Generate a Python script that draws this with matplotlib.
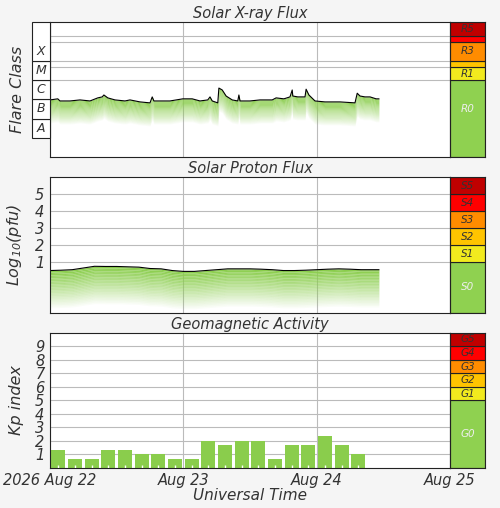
import matplotlib
matplotlib.use("Agg")
import matplotlib.pyplot as plt
import numpy as np
from matplotlib.patches import Rectangle

plt.rcParams['font.family'] = ['DejaVu Sans']
plt.rcParams['font.style'] = 'italic'

# X-ray flux (hours since 2026 Aug 22 00UT, W/m^2)
xray_hours = [0, 1.4, 1.8, 3.6, 5.4, 7.2, 8.6, 9.4, 9.7, 10.4, 11.7, 13.5, 14.4, 16.2, 18, 18.4, 18.7,
              19.8, 21.6, 23.9, 25.6, 27, 28.4, 28.8, 29.2, 30.2, 30.4, 31, 31.7, 32.8, 33.8, 34, 34.2,
              36, 37.8, 40, 40.7, 42.1, 43.2, 43.6, 43.7, 44.6, 45.9, 46.1, 46.6, 47.7, 49.5, 52.2,
              54.9, 55.3, 55.8, 56.7, 57.6, 58.7, 59.2]
xray_flux = [9.4e-7, 1.07e-6, 8.3e-7, 8.3e-7, 9.4e-7, 8.3e-7, 1.2e-6, 1.35e-6, 1.7e-6, 1.2e-6, 9.4e-7,
             8.3e-7, 9.4e-7, 7.4e-7, 6.6e-7, 1.35e-6, 8.3e-7, 8.3e-7, 8.3e-7, 1.07e-6, 1.07e-6, 8.3e-7,
             9.4e-7, 1.35e-6, 8.3e-7, 6.6e-7, 3.9e-6, 3.1e-6, 1.5e-6, 9.4e-7, 8.3e-7, 1.7e-6, 8.3e-7,
             8.3e-7, 9.4e-7, 9.4e-7, 1.2e-6, 1.07e-6, 1.35e-6, 3.1e-6, 1.5e-6, 1.35e-6, 1.35e-6, 3.4e-6,
             1.7e-6, 8.3e-7, 7.4e-7, 7.4e-7, 6.6e-7, 2.1e-6, 1.5e-6, 1.35e-6, 1.35e-6, 1.07e-6, 1.07e-6]

# Proton flux (log10 pfu)
proton_hours = [0, 2, 4, 6, 8, 10, 12, 14, 16, 18, 20, 22, 24, 26, 28, 30, 32, 34, 36, 38, 40,
                42, 44, 46, 48, 50, 52, 54, 56, 58, 59.2]
proton_log = [0.5, 0.52, 0.55, 0.65, 0.75, 0.74, 0.74, 0.72, 0.7, 0.62, 0.6, 0.5, 0.45, 0.45, 0.5,
              0.55, 0.6, 0.6, 0.6, 0.58, 0.55, 0.5, 0.5, 0.52, 0.55, 0.58, 0.6, 0.58, 0.55, 0.55, 0.55]

# Kp index, 3-hour bins
kp_values = [1.33, 0.67, 0.67, 1.33, 1.33, 1.0, 1.0, 0.67, 0.67, 2.0, 1.67, 2.0, 2.0, 0.67, 1.67,
             1.67, 2.33, 1.67, 1.0]

tick_hours = [0, 24, 48, 72]
tick_labels = ['2026 Aug 22', 'Aug 23', 'Aug 24', 'Aug 25']

r_levels = ['R0', 'R1', 'R2', 'R3', 'R4', 'R5']
r_bounds = [1e-9, 1e-5, 5e-5, 1e-4, 1e-3, 2e-3, 1.1e-2]
s_levels = ['S0', 'S1', 'S2', 'S3', 'S4', 'S5']
s_bounds = [-2, 1, 2, 3, 4, 5, 6]
g_levels = ['G0', 'G1', 'G2', 'G3', 'G4', 'G5']
g_bounds = [0, 5, 6, 7, 8, 9, 10]
flare_classes = ['A', 'B', 'C', 'M', 'X']
flare_bounds = [1e-8, 1e-7, 1e-6, 1e-5, 1e-4, 1.1e-2]

scale_colors = ['#8fd150', '#f2ea1e', '#ffc400', '#ff8c00', '#ff0000', '#c00000']
GREEN = '#8acd4c'
GRID = '#bbbbbb'
TXT = '#333333'

fig = plt.figure(figsize=(5, 5.08), dpi=100)
fig.patch.set_facecolor('#f5f5f5')

L, W = 0.1, 0.8
SL, SW = 0.9, 0.07
panels = [(0.691, 0.266), (0.384, 0.267), (0.079, 0.266)]


def style(ax):
    ax.set_xlim(0, 72)
    ax.set_xticks(tick_hours)
    ax.grid(axis='x', color=GRID, lw=0.8)
    ax.set_axisbelow(True)
    ax.tick_params(length=0, colors=TXT)
    for s in ax.spines.values():
        s.set_color('#222222')


def gradient(ax, x, top, bottom_fn, n=25):
    x = np.asarray(x)
    for k in range(n):
        a = bottom_fn(top, k / n)
        b = bottom_fn(top, (k + 1) / n)
        ax.fill_between(x, a, b, color=GREEN, alpha=(1 - k / n) ** 1.0, lw=0)


def scale(rect, bounds, labels, log=False):
    sa = fig.add_axes(rect)
    if log:
        sa.set_yscale('log')
    sa.set_ylim(bounds[0], bounds[-1])
    sa.set_xlim(0, 1)
    for i, lab in enumerate(labels):
        lo, hi = bounds[i], bounds[i + 1]
        sa.add_patch(Rectangle((0, lo), 1, hi - lo, facecolor=scale_colors[i], edgecolor='#222222', lw=0.8))
        mid = np.sqrt(lo * hi) if log else (lo + hi) / 2
        if i == 0:
            mid = np.sqrt(bounds[1] * 1e-8) if log else (lo + hi) / 2
        if log and i in (2, 4):
            continue
        sa.text(0.5, mid, lab, ha='center', va='center', fontsize=7.5,
                color='#eeeeee' if i == 0 else '#333333')
    sa.set_xticks([])
    sa.set_yticks([])
    sa.minorticks_off()
    for s in sa.spines.values():
        s.set_color('#222222')
    return sa


# Panel 1: X-ray
ax1 = fig.add_axes([L, panels[0][0], W, panels[0][1]])
ax1.set_yscale('log')
ax1.set_ylim(1e-9, 1.1e-2)
style(ax1)
ax1.set_xticklabels([])
ax1.set_yticks([])
ax1.minorticks_off()
for v in r_bounds[1:-1]:
    ax1.axhline(v, color=GRID, lw=0.8)
gradient(ax1, xray_hours, np.asarray(xray_flux), lambda t, f: t * 10 ** (-1.2 * f))
ax1.plot(xray_hours, xray_flux, color='black', lw=0.8)
ax1.set_title('Solar X-ray Flux', fontsize=10.5, color=TXT, pad=3)
scale([SL, panels[0][0], SW, panels[0][1]], r_bounds, r_levels, log=True)

fa = fig.add_axes([0.064, panels[0][0], 0.036, panels[0][1]])
fa.set_yscale('log')
fa.set_ylim(1e-9, 1.1e-2)
fa.set_xlim(0, 1)
fa.axis('off')
for i, c in enumerate(flare_classes):
    lo, hi = flare_bounds[i], flare_bounds[i + 1]
    fa.add_patch(Rectangle((0, lo), 1, hi - lo, facecolor='white', edgecolor='#222222', lw=0.8, clip_on=False))
    mid = np.sqrt(lo * 1e-3) if c == 'X' else np.sqrt(lo * hi)
    fa.text(0.5, mid, c, ha='center', va='center', fontsize=9, color=TXT)
fig.text(0.035, panels[0][0] + panels[0][1] / 2, 'Flare Class', rotation=90, ha='center', va='center',
         fontsize=11.5, color=TXT)

# Panel 2: Proton
ax2 = fig.add_axes([L, panels[1][0], W, panels[1][1]])
ax2.set_ylim(-2, 6)
style(ax2)
ax2.set_xticklabels([])
ax2.set_yticks([1, 2, 3, 4, 5])
ax2.tick_params(axis='y', labelsize=10.5, pad=4)
for v in s_bounds[1:-1]:
    ax2.axhline(v, color=GRID, lw=0.8)
gradient(ax2, proton_hours, np.asarray(proton_log), lambda t, f: t - 2.2 * f)
ax2.plot(proton_hours, proton_log, color='black', lw=0.8)
ax2.set_title('Solar Proton Flux', fontsize=10.5, color=TXT, pad=3)
ax2.set_ylabel('Log$_{10}$(pfu)', fontsize=11.5, color=TXT, labelpad=8)
scale([SL, panels[1][0], SW, panels[1][1]], s_bounds, s_levels)

# Panel 3: Kp
ax3 = fig.add_axes([L, panels[2][0], W, panels[2][1]])
ax3.set_ylim(0, 10)
style(ax3)
ax3.set_xticklabels(tick_labels, fontsize=10.5)
ax3.tick_params(axis='x', pad=4)
ax3.set_yticks(range(1, 10))
ax3.tick_params(axis='y', labelsize=10.5, pad=4)
for v in range(1, 10):
    ax3.axhline(v, color=GRID, lw=0.8)
centers = [1.5 + 3 * i for i in range(len(kp_values))]
ax3.bar(centers, kp_values, width=2.5, color=GREEN, zorder=2)
ax3.vlines(centers, 0, 0.22, color='white', lw=1, zorder=3)
ax3.set_title('Geomagnetic Activity', fontsize=10.5, color=TXT, pad=3)
ax3.set_ylabel('Kp index', fontsize=11.5, color=TXT, labelpad=8)
ax3.set_xlabel('Universal Time', fontsize=11, color=TXT, labelpad=0)
scale([SL, panels[2][0], SW, panels[2][1]], g_bounds, g_levels)

fig.savefig('out.png', dpi=100, facecolor=fig.get_facecolor())
